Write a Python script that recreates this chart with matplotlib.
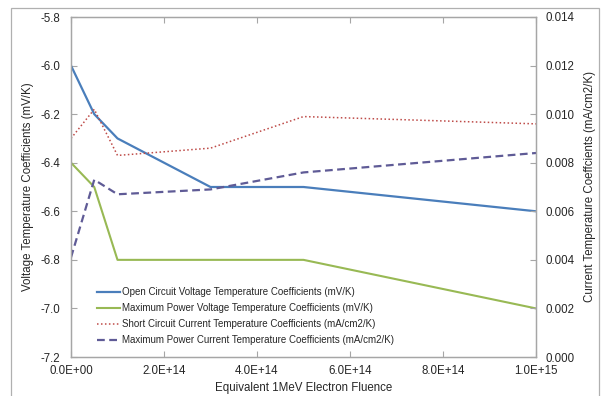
import matplotlib
matplotlib.use("Agg")
import matplotlib.pyplot as plt
from matplotlib.ticker import FuncFormatter, FixedLocator
from matplotlib.patches import Rectangle

plt.rcParams['font.family'] = ['Liberation Sans', 'DejaVu Sans']

fluence = [0, 5e13, 1e14, 3e14, 5e14, 1e15]
voc_tc = [-6.0, -6.2, -6.3, -6.5, -6.5, -6.6]
vmp_tc = [-6.4, -6.5, -6.8, -6.8, -6.8, -7.0]
isc_tc = [0.0090, 0.0102, 0.0083, 0.0086, 0.0099, 0.0096]
imp_tc = [0.0041, 0.0073, 0.0067, 0.0069, 0.0076, 0.0084]

labels = [
    "Open Circuit Voltage Temperature Coefficients (mV/K)",
    "Maximum Power Voltage Temperature Coefficients (mV/K)",
    "Short Circuit Current Temperature Coefficients (mA/cm2/K)",
    "Maximum Power Current Temperature Coefficients (mA/cm2/K)",
]
x_ticks = [0, 2e14, 4e14, 6e14, 8e14, 1e15]
left_ticks = [-7.2, -7.0, -6.8, -6.6, -6.4, -6.2, -6.0, -5.8]
right_ticks = [0.000, 0.002, 0.004, 0.006, 0.008, 0.010, 0.012, 0.014]

W, H = 604, 396
fig = plt.figure(figsize=(W / 100, H / 100), dpi=100)
fig.patch.set_facecolor('white')
fig.add_artist(Rectangle((11 / W, -0.05), (599 - 11) / W, (H - 8) / H + 0.05,
                         transform=fig.transFigure, fill=False,
                         edgecolor='#b0b0b0', lw=0.9))

L, R, T, B = 71, 536, 17, 357
ax = fig.add_axes([L / W, (H - B) / H, (R - L) / W, (B - T) / H])
ax2 = ax.twinx()

tc = '#262626'
gc = '#a6a6a6'

blue = '#4a7ebb'
green = '#98b954'
red = '#be4b48'
purple = '#5f5b96'

l1, = ax.plot(fluence, voc_tc, color=blue, lw=1.6, label=labels[0])
l2, = ax.plot(fluence, vmp_tc, color=green, lw=1.5, label=labels[1])
l3, = ax2.plot(fluence, isc_tc, color=red, lw=1.1, linestyle=(0, (1, 1.6)), label=labels[2])
l4, = ax2.plot(fluence, imp_tc, color=purple, lw=1.6, linestyle=(0, (3.5, 2)), label=labels[3])

ax.set_xlim(0, 1e15)
ax.set_ylim(-7.2, -5.8)
ax2.set_ylim(0, 0.014)
ax.xaxis.set_major_locator(FixedLocator(x_ticks))
ax.yaxis.set_major_locator(FixedLocator(left_ticks))
ax2.yaxis.set_major_locator(FixedLocator(right_ticks))


def sci(v, pos):
    if v == 0:
        return "0.0E+00"
    return "%.1E" % v


ax.xaxis.set_major_formatter(FuncFormatter(sci))
ax.yaxis.set_major_formatter(FuncFormatter(lambda v, p: "%.1f" % v))
ax2.yaxis.set_major_formatter(FuncFormatter(lambda v, p: "%.3f" % v))

fs = 8.3
ax.tick_params(axis='x', direction='in', length=4, color=gc, top=True,
               labelsize=fs, labelcolor=tc, pad=6)
ax.tick_params(axis='y', direction='in', length=4, color=gc,
               labelsize=fs, labelcolor=tc, pad=8)
ax2.tick_params(axis='y', direction='in', length=4, color=gc,
                labelsize=fs, labelcolor=tc, pad=7)
for a in (ax, ax2):
    for s in a.spines.values():
        s.set_color(gc)
        s.set_linewidth(0.9)

fig.text(28 / W, 1 - ((T + B) / 2) / H, "Voltage Temperature Coefficients (mV/K)",
         rotation=90, ha='center', va='center', fontsize=fs, color=tc)
fig.text(590 / W, 1 - ((T + B) / 2) / H, "Current Temperature Coeffcients (mA/cm2/K)",
         rotation=90, ha='center', va='center', fontsize=fs, color=tc)
fig.text(((L + R) / 2) / W, 1 - 388 / H, "Equivalent 1MeV Electron Fluence",
         ha='center', va='center', fontsize=fs, color=tc)

leg = ax.legend(handles=[l1, l2, l3, l4], loc='lower left',
                bbox_to_anchor=(97 / W, (H - 345) / H), bbox_transform=fig.transFigure,
                frameon=False, fontsize=7.0, borderpad=0, borderaxespad=0,
                handlelength=2.4, handletextpad=0.15, labelspacing=0.62)
for t in leg.get_texts():
    t.set_color(tc)

fig.savefig("out.png", dpi=100)
